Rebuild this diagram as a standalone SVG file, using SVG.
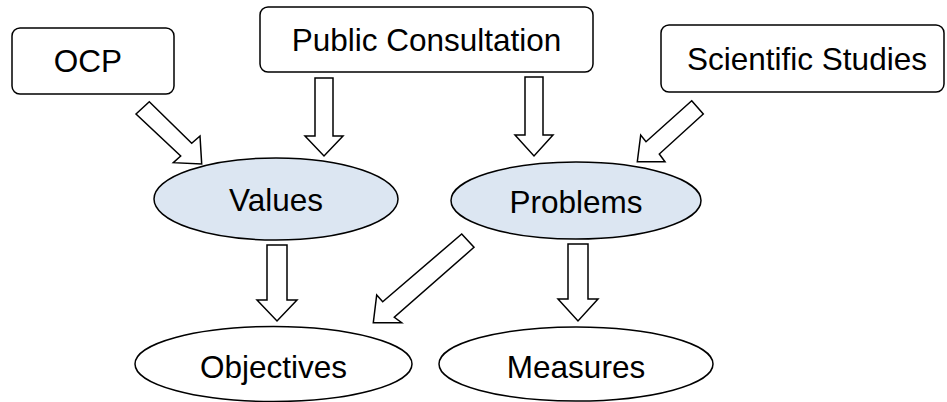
<svg xmlns="http://www.w3.org/2000/svg" width="947" height="402" viewBox="0 0 947 402">
<style>
.box{fill:#ffffff;stroke:#000000;stroke-width:1.5}
.hl{fill:#dce6f2;stroke:#000000;stroke-width:1.5}
.pl{fill:#ffffff;stroke:#000000;stroke-width:1.5}
.arr{fill:#ffffff;stroke:#000000;stroke-width:1.5;stroke-linejoin:miter}
text{font-family:"Liberation Sans",Arial,sans-serif;font-size:31.5px;fill:#000000;text-anchor:middle}
</style>
<rect width="947" height="402" fill="#ffffff"/>
<g id="connectors">
<polygon class="arr" points="136,114 149.3,101.7 191.7,143.3 200,136 201.7,164 173.3,162.7 180.7,156"/>
<polygon class="arr" points="315,78 333,78 333,136 343,136 324,156 305,136 315,136"/>
<polygon class="arr" points="525,77 543,77 543,135 553,135 534,156 515,135 525,135"/>
<polygon class="arr" points="691.7,100.7 703.3,114 659.3,154 665,161.7 637.3,161.7 640.7,135 646,141.7"/>
<polygon class="arr" points="267,245 287,245 287,300 297,300 277,321 257,300 267,300"/>
<polygon class="arr" points="461.7,234 474,247.3 394.3,317.3 401.7,322.7 373.3,322.7 376.7,295 382.7,301.7"/>
<polygon class="arr" points="568,244 588,244 588,299 598,299 578,321 558,299 568,299"/>
</g>
<g id="ocp">
<rect class="box" x="12" y="28" width="162" height="66" rx="8"/>
<text x="88" y="72">OCP</text>
</g>
<g id="public-consultation">
<rect class="box" x="260" y="7" width="333" height="65" rx="8"/>
<text x="426.5" y="51">Public Consultation</text>
</g>
<g id="scientific-studies">
<rect class="box" x="661" y="25" width="283" height="67" rx="8"/>
<text x="807" y="70">Scientific Studies</text>
</g>
<g id="values">
<ellipse class="hl" cx="276" cy="199" rx="122" ry="41"/>
<text x="276" y="211">Values</text>
</g>
<g id="problems">
<ellipse class="hl" cx="576" cy="200.5" rx="125" ry="38.5"/>
<text x="576" y="213">Problems</text>
</g>
<g id="objectives">
<ellipse class="pl" cx="273.5" cy="364" rx="138.5" ry="37.5"/>
<text x="273.5" y="378">Objectives</text>
</g>
<g id="measures">
<ellipse class="pl" cx="576" cy="364" rx="137" ry="37"/>
<text x="576" y="378">Measures</text>
</g>
</svg>
